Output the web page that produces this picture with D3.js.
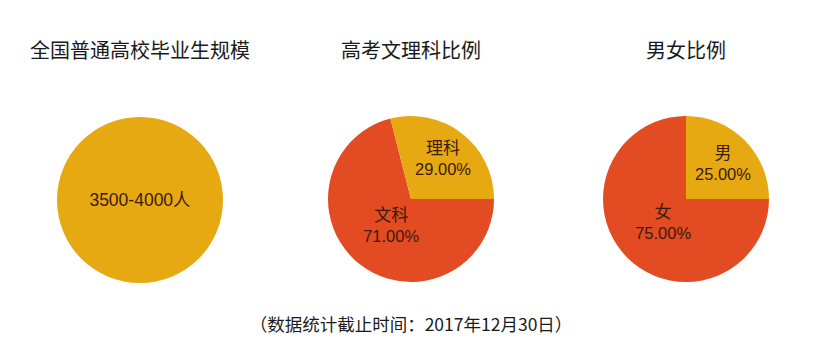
<!DOCTYPE html>
<html>
<head>
<meta charset="utf-8">
<script src="https://cdn.jsdelivr.net/npm/d3@7"></script>
<style>
  body { margin: 0; background: #fff; }
  text { font-family: "Noto Sans CJK SC", "Noto Sans", sans-serif; }
  text.val { font-family: "Liberation Sans", "Noto Sans CJK SC", sans-serif; }
</style>
</head>
<body>
<svg id="chart" width="819" height="347"></svg>
<script>
// data
var titles = ["全国普通高校毕业生规模", "高考文理科比例", "男女比例"];
var scaleLabel = ["3500-4000人"];
var scaleValue = [100];
var subjectLabels = ["文科", "理科"];
var subjectValues = [71, 29];
var genderLabels = ["女", "男"];
var genderValues = [75, 25];
var footnote = "（数据统计截止时间：2017年12月30日）";

var colours = ["#e34b22", "#e6a912"];

var svg = d3.select("#chart");

var pies = [
	{ title: titles[0], labels: scaleLabel, values: scaleValue, cx: 140, cy: 200, single: true },
	{ title: titles[1], labels: subjectLabels, values: subjectValues, cx: 411, cy: 199 },
	{ title: titles[2], labels: genderLabels, values: genderValues, cx: 686, cy: 199 }
];

var radius = 83;

var pie = d3.pie()
	.sort(null)
	.value(function (d) { return d.value; })
	.startAngle(Math.PI / 2)
	.endAngle(Math.PI / 2 + 2 * Math.PI);

var arc = d3.arc().innerRadius(0).outerRadius(radius);

pies.forEach(function (p) {
	svg.append("text")
		.attr("x", p.cx)
		.attr("y", 58)
		.attr("text-anchor", "middle")
		.attr("font-size", 20)
		.attr("fill", "#1a1a1a")
		.text(p.title);

	var g = svg.append("g")
		.attr("transform", "translate(" + p.cx + "," + p.cy + ")");

	var rows = p.values.map(function (v, i) {
		return { label: p.labels[i], value: v };
	});
	var total = d3.sum(p.values);
	var arcs = pie(rows);

	g.selectAll("path")
		.data(arcs)
		.enter()
	  .append("path")
		.attr("d", arc)
		.attr("fill", function (d, i) {
			return p.single ? colours[1] : colours[i];
		});

	var lbl = g.selectAll("g.lbl")
		.data(arcs)
		.enter()
	  .append("g")
		.attr("class", "lbl")
		.attr("transform", function (d) {
			if (p.single) return "translate(0,0)";
			var big = (d.endAngle - d.startAngle) > Math.PI;
			var r = big ? radius * 0.39 : radius * 0.63;
			var c = d3.arc().innerRadius(r).outerRadius(r).centroid(d);
			return "translate(" + c[0] + "," + c[1] + ")";
		});

	lbl.each(function (d) {
		var el = d3.select(this);
		if (p.single) {
			el.append("text")
				.attr("class", "val")
				.attr("text-anchor", "middle")
				.attr("font-size", 17.5)
				.attr("fill", "#3a1a0c")
				.attr("y", 6)
				.text(d.data.label);
		} else {
			el.append("text")
				.attr("class", "val")
				.attr("text-anchor", "middle")
				.attr("font-size", 17)
				.attr("fill", "#3a1a0c")
				.attr("y", -3.5)
				.text(d.data.label);
			el.append("text")
				.attr("class", "val")
				.attr("text-anchor", "middle")
				.attr("font-size", 16.5)
				.attr("fill", "#3a1a0c")
				.attr("y", 17.5)
				.text(d3.format(".2f")(d.data.value / total * 100) + "%");
		}
	});
});

svg.append("text")
	.attr("x", 411)
	.attr("y", 331)
	.attr("text-anchor", "middle")
	.attr("font-size", 17.5)
	.attr("fill", "#1a1a1a")
	.text(footnote);
</script>
</body>
</html>
